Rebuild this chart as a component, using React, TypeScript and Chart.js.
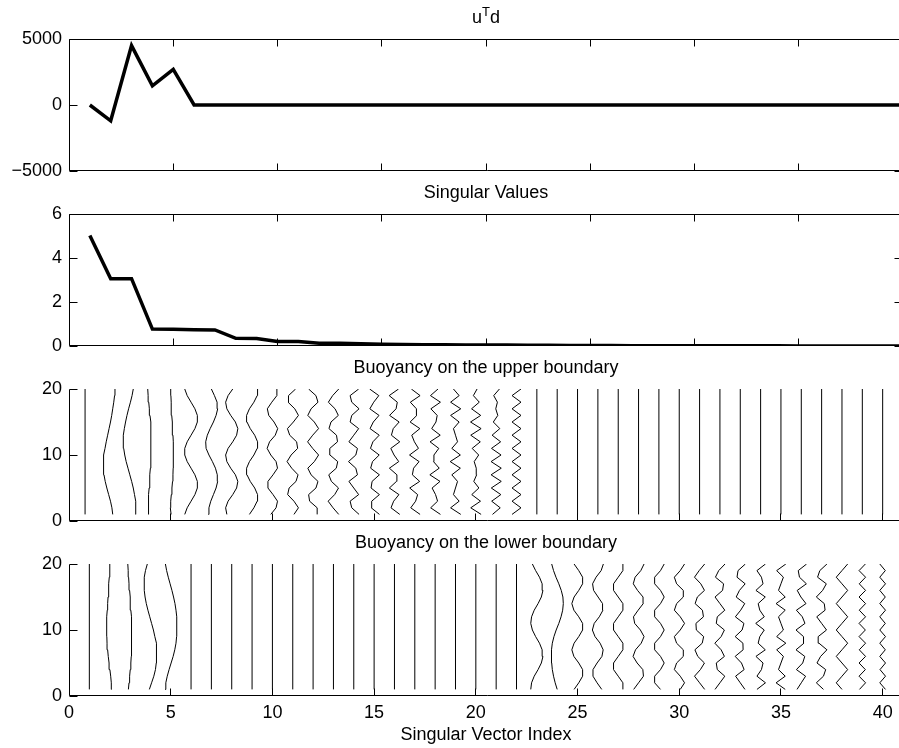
import { useEffect, useRef } from "react";
import { Chart, registerables } from "chart.js";

Chart.register(...registerables);

const FONT_FAMILY = "'Liberation Sans', Arial, Helvetica, sans-serif";

// ---------- data ----------
const vectorIndex = [1, 2, 3, 4, 5, 6, 7, 8, 9, 10, 11, 12, 13, 14, 15, 16, 17, 18, 19, 20,
  21, 22, 23, 24, 25, 26, 27, 28, 29, 30, 31, 32, 33, 34, 35, 36, 37, 38, 39, 40];
const gridLevels = [1, 2, 3, 4, 5, 6, 7, 8, 9, 10, 11, 12, 13, 14, 15, 16, 17, 18, 19, 20];
const xTickValues = [0, 5, 10, 15, 20, 25, 30, 35, 40];

const projectedData = [0, -1200, 4500, 1450, 2700, 0, 0, 0, 0, 0, 0, 0, 0, 0, 0, 0, 0, 0, 0, 0,
  0, 0, 0, 0, 0, 0, 0, 0, 0, 0, 0, 0, 0, 0, 0, 0, 0, 0, 0, 0];
const singularValues = [5.02, 3.06, 3.06, 0.77, 0.76, 0.74, 0.73, 0.35, 0.34, 0.21, 0.2, 0.13, 0.12, 0.1,
  0.08, 0.07, 0.06, 0.055, 0.05, 0.045, 0.04, 0.035, 0.03, 0.025, 0.02, 0.018, 0.015, 0.013, 0.011,
  0.01, 0.009, 0.008, 0.007, 0.006, 0.005, 0.004, 0.003, 0.003, 0.002, 0.002];

const utdTicks = [-5000, 0, 5000];
const svTicks = [0, 2, 4, 6];
const boundaryTicks = [0, 10, 20];

// singular-vector components (hundredths), bottom (level 1) to top (level 20)
const Z = [0, 0, 0, 0, 0, 0, 0, 0, 0, 0, 0, 0, 0, 0, 0, 0, 0, 0, 0, 0];
const upperBoundary = [
  [-21, -21, -21, -21, -21, -21, -21, -21, -21, -21, -21, -21, -21, -21, -21, -21, -21, -21, -21, -21],
  [15, 11, 4, -5, -14, -22, -28, -31, -31, -28, -23, -17, -10, -3, 4, 10, 15, 20, 24, 26],
  [29, 29, 27, 22, 16, 8, -1, -10, -19, -26, -31, -33, -33, -28, -22, -15, -7, 2, 10, 16],
  [-10, -10, -9, -8, -6, -4, -2, 0, 2, 3, 3, 3, 3, 2, 0, -2, -5, -8, -11, -13],
  [2, -2, 0, 3, 6, 9, 11, 12, 13, 13, 13, 12, 11, 9, 7, 5, 3, 2, 1, 0],
  [-31, -19, 0, 19, 31, 31, 19, 0, -19, -31, -31, -19, 0, 19, 31, 31, 19, 0, -19, -31],
  [-15, -12, -3, 10, 23, 31, 29, 20, 5, -12, -26, -28, -20, -6, 10, 23, 31, 28, 15, 0],
  [-24, -30, -18, 5, 24, 30, 18, -5, -24, -30, -18, 5, 24, 30, 18, -5, -24, -30, -18, 5],
  [-13, 9, 25, 27, 13, -9, -25, -27, -13, 9, 25, 27, 13, -9, -25, -27, -13, 9, 25, 27],
  [-8, 18, 25, 3, -22, -22, 3, 25, 18, -8, -26, -14, 14, 26, 8, -18, -25, -3, 22, 22],
  [6, 28, 6, -25, -18, 16, 26, -5, -28, -8, 24, 19, -15, -26, 3, 28, 10, -23, -21, 14],
  [20, 20, -17, -22, 14, 24, -10, -26, 6, 27, -2, -27, -2, 27, 6, -26, -10, 24, 14, -22],
  [26, -2, -26, 6, 25, -10, -23, 14, 21, -17, -18, 20, 15, -22, -12, 24, 8, -25, -4, 26],
  [26, -10, -18, 24, 0, -24, 18, 10, -26, 10, 18, -24, 0, 24, -18, -10, 26, -10, -18, 24],
  [26, -14, -12, 26, -15, -10, 26, -17, -8, 25, -18, -6, 25, -20, -4, 24, -21, -2, 23, -22],
  [26, -17, -4, 22, -25, 10, 12, -25, 21, -2, -18, 26, -15, -6, 23, -24, 8, 14, -26, 20],
  [26, -20, 4, 14, -25, 24, -12, -6, 21, -26, 18, -2, -15, 25, -23, 10, 8, -22, 26, -17],
  [26, -22, 12, 2, -15, 24, -26, 20, -8, -6, 18, -25, 25, -17, 4, 10, -21, 26, -23, 14],
  [26, -24, 18, -10, 0, 10, -18, 24, -26, 24, -18, 10, 0, -10, 18, -24, 26, -24, 18, -10],
  [26, -25, 23, -20, 15, -10, 4, 2, -8, 14, -18, 22, -25, 26, -26, 24, -21, 17, -12, 6],
  [-18, 20, -22, 23, -24, 25, -25, 25, -25, 24, -23, 22, -20, 18, -14, 8, -2, 6, -12, 16],
  [-22, 22, -22, 22, -22, 22, -22, 22, -22, 22, -22, 22, -22, 22, -22, 22, -22, 22, -22, 22],
  Z, Z, Z, Z, Z, Z, Z, Z, Z, Z, Z, Z, Z, Z, Z, Z, Z, Z,
];
const lowerBoundary = [
  Z,
  [10, 8, 5, 1, -3, -7, -10, -13, -14, -15, -15, -14, -12, -10, -8, -6, -4, -2, 0, 1],
  [-8, -5, -2, 1, 4, 6, 7, 8, 8, 8, 7, 6, 4, 2, 0, -2, -5, -7, -9, -11],
  [-5, 6, 17, 25, 29, 31, 31, 28, 22, 15, 6, -3, -12, -20, -26, -30, -31, -29, -24, -15],
  [-28, -24, -17, -8, 2, 12, 20, 26, 29, 30, 30, 29, 26, 21, 14, 6, -3, -12, -20, -26],
  Z, Z, Z, Z, Z, Z, Z, Z, Z, Z, Z, Z, Z, Z, Z, Z, Z,
  [-30, -26, -13, 6, 22, 30, 26, 13, -6, -22, -30, -26, -13, 6, 22, 30, 26, 13, -6, -22],
  [0, -10, -18, -24, -27, -28, -28, -24, -16, -5, 8, 19, 27, 30, 28, 20, 8, -6, -18, -27],
  [-17, 6, 25, 25, 6, -18, -28, -17, 6, 25, 25, 6, -18, -28, -17, 6, 25, 25, 6, -17],
  [19, -4, -24, -24, -4, 20, 26, 11, -14, -27, -18, 7, 25, 23, 1, -21, -26, -9, 16, 27],
  [23, 23, 0, -23, -23, 0, 23, 23, 0, -23, -23, 0, 23, 23, 0, -23, -23, 0, 23, 23],
  [-24, 0, 24, 21, -7, -27, -15, 13, 27, 9, -19, -25, -2, 23, 22, -5, -26, -17, 11, 27],
  [8, -21, -21, 8, 26, 8, -21, -21, 8, 26, 8, -21, -21, 8, 26, 8, -21, -21, 8, 26],
  [5, 26, 5, -24, -13, 20, 20, -13, -24, 5, 26, 5, -24, -13, 20, 20, -13, -24, 5, 26],
  [25, 0, -25, 4, 24, -9, -23, 13, 20, -16, -18, 19, 14, -22, -11, 24, 6, -25, -2, 25],
  [-24, 0, 24, -13, -18, 22, 6, -25, 6, 22, -18, -13, 24, 0, -24, 13, 18, -22, -6, 25],
  [23, 0, -23, 19, 6, -25, 14, 13, -25, 9, 18, -24, 2, 22, -20, -4, 24, -16, -11, 25],
  [-18, 24, -18, 4, 12, -23, 23, -12, -4, 18, -24, 18, -4, -12, 23, -23, 12, 4, -18, 24],
  [21, -24, 21, -12, 0, 12, -21, 24, -21, 12, 0, -12, 21, -24, 21, -12, 0, 12, -21, 24],
  [-21, 0, 21, -24, 7, 17, -26, 13, 11, -26, 18, 5, -24, 23, -2, -20, 25, -9, -15, 26],
  [9, -26, 9, 20, -23, -5, 26, -13, -17, 24, 0, -24, 17, 13, -26, 5, 23, -20, -9, 26],
  [0, -28, 0, 28, 0, -28, 0, 28, 0, -28, 0, 28, 0, -28, 0, 28, 0, -28, 0, 28],
  [-14, 16, -16, 15, -16, 16, -15, 16, -16, 15, -16, 16, -15, 16, -16, 16, -15, 16, -16, 15],
  [14, -14, 14, -13, 14, -14, 13, -14, 14, -14, 13, -14, 14, -14, 13, -14, 14, -14, 13, -14],
];

// ---------- layout ----------
const CANVAS_W = 910;
const AXIS_LEFT = 69;
const PAD_RIGHT = 7; // chart area right edge at 903 (beyond the visible 899)
const PAD_TOP = 39;
const PLOT_H = 132;

const framePlugin = {
  id: "panelFrame",
  afterDraw(chart: any, _args: any, opts: any) {
    const { ctx, chartArea: a, scales } = chart;
    const xs = scales.x;
    const ys = scales.y;
    ctx.save();
    ctx.strokeStyle = "#000";
    ctx.lineWidth = 1;
    const L = Math.floor(a.left) + 0.5;
    const T = Math.floor(a.top) + 0.5;
    const B = Math.ceil(a.bottom) - 0.5;
    const R = Math.round(a.right) - 0.5;
    ctx.beginPath();
    ctx.moveTo(L, T);
    ctx.lineTo(L, B);
    ctx.lineTo(a.right + 2, B);
    if (opts.box) {
      ctx.moveTo(L, T);
      ctx.lineTo(R, T);
      ctx.lineTo(R, B);
    }
    const xTL = 7;
    const yTL = 8;
    for (const t of xs.ticks) {
      const px = Math.floor(xs.getPixelForValue(t.value)) + 0.5;
      ctx.moveTo(px, B);
      ctx.lineTo(px, B - xTL);
      if (opts.box) {
        ctx.moveTo(px, T);
        ctx.lineTo(px, T + xTL);
      }
    }
    for (const t of ys.ticks) {
      const py = Math.floor(ys.getPixelForValue(t.value)) + 0.5;
      ctx.moveTo(L, py);
      ctx.lineTo(L + yTL, py);
      if (opts.box) {
        ctx.moveTo(R, py);
        ctx.lineTo(R - yTL, py);
      }
    }
    ctx.stroke();

    // panel title
    const cx = (a.left + a.right) / 2;
    const base = a.top - 16;
    ctx.fillStyle = "#000";
    ctx.textBaseline = "alphabetic";
    const big = "18px " + FONT_FAMILY;
    const small = "13px " + FONT_FAMILY;
    if (opts.parts) {
      const [p1, sup, p2] = opts.parts;
      ctx.font = big;
      const w1 = ctx.measureText(p1).width;
      const w3 = ctx.measureText(p2).width;
      ctx.font = small;
      const w2 = ctx.measureText(sup).width;
      let x = cx - (w1 + w2 + w3) / 2;
      ctx.textAlign = "left";
      ctx.font = big;
      ctx.fillText(p1, x, base);
      x += w1;
      ctx.font = small;
      ctx.fillText(sup, x, base - 7);
      x += w2;
      ctx.font = big;
      ctx.fillText(p2, x, base);
    } else if (opts.title) {
      ctx.font = big;
      ctx.textAlign = "center";
      ctx.fillText(opts.title, cx, base);
    }
    ctx.restore();
  },
};

const thick = (values: number[]) => [
  {
    data: vectorIndex.map((x, i) => ({ x, y: values[i] })),
    borderColor: "#000",
    borderWidth: 3.5,
    pointRadius: 0,
    fill: false,
    tension: 0,
  },
];

const wiggles = (vectors: number[][]) =>
  vectors.map((vec, k) => ({
    data: gridLevels.map((y, j) => ({ x: vectorIndex[k] + vec[j] / 100, y })),
    borderColor: "#000",
    borderWidth: 1,
    pointRadius: 0,
    fill: false,
    tension: 0,
  }));

const fmt = (v: number) => (v < 0 ? "\u2212" + Math.abs(v) : String(v));

type PanelSpec = {
  top: number;
  axisH: number;
  title?: string;
  parts?: string[];
  yMin: number;
  yMax: number;
  yTicks: number[];
  xMax: number;
  box: boolean;
  showX: boolean;
  datasets: any[];
};

const panels: PanelSpec[] = [
  { top: 0, axisH: 30, parts: ["u", "T", "d"], yMin: -5000, yMax: 5000, yTicks: utdTicks, xMax: 40, box: true, showX: false, datasets: thick(projectedData) },
  { top: 175, axisH: 30, title: "Singular Values", yMin: 0, yMax: 6, yTicks: svTicks, xMax: 40, box: true, showX: false, datasets: thick(singularValues) },
  { top: 350, axisH: 30, title: "Buoyancy on the upper boundary", yMin: 0, yMax: 20, yTicks: boundaryTicks, xMax: 41, box: false, showX: false, datasets: wiggles(upperBoundary) },
  { top: 525, axisH: 52, title: "Buoyancy on the lower boundary", yMin: 0, yMax: 20, yTicks: boundaryTicks, xMax: 41, box: false, showX: true, datasets: wiggles(lowerBoundary) },
];

function Panel({ spec }: { spec: PanelSpec }) {
  const ref = useRef<HTMLCanvasElement>(null);
  const height = PAD_TOP + PLOT_H + spec.axisH;
  useEffect(() => {
    const font = { family: FONT_FAMILY, size: 18 };
    const chart = new Chart(ref.current as HTMLCanvasElement, {
      type: "line",
      data: { datasets: spec.datasets },
      options: {
        animation: false,
        responsive: false,
        maintainAspectRatio: false,
        layout: { padding: { top: PAD_TOP, right: PAD_RIGHT, left: 0, bottom: 0 } },
        plugins: {
          legend: { display: false },
          tooltip: { enabled: false },
          title: { display: false },
          panelFrame: { box: spec.box, title: spec.title, parts: spec.parts },
        } as any,
        scales: {
          x: {
            type: "linear",
            min: 0,
            max: spec.xMax,
            grid: { display: false, drawTicks: false },
            border: { display: false },
            ticks: { display: spec.showX, font, color: "#000", padding: 6, maxRotation: 0, autoSkip: false },
            title: { display: spec.showX, text: "Singular Vector Index", font, color: "#000", padding: { top: 0, bottom: 2 } },
            afterBuildTicks: (s: any) => {
              s.ticks = xTickValues.map((value) => ({ value }));
            },
            afterFit: (s: any) => {
              s.height = spec.axisH;
            },
          },
          y: {
            type: "linear",
            min: spec.yMin,
            max: spec.yMax,
            grid: { display: false, drawTicks: false },
            border: { display: false },
            ticks: { font, color: "#000", padding: 7, callback: (v: any) => fmt(Number(v)) },
            afterBuildTicks: (s: any) => {
              s.ticks = spec.yTicks.map((value) => ({ value }));
            },
            afterFit: (s: any) => {
              s.width = AXIS_LEFT;
            },
          },
        } as any,
      },
      plugins: [framePlugin],
    });
    return () => chart.destroy();
  }, [spec]);
  return (
    <canvas
      ref={ref}
      width={CANVAS_W}
      height={height}
      style={{ position: "absolute", left: 0, top: spec.top, width: CANVAS_W, height }}
    />
  );
}

export default function App() {
  return (
    <div
      style={{
        position: "absolute",
        left: 0,
        top: 0,
        width: 899,
        height: 748,
        overflow: "hidden",
        background: "#fff",
      }}
    >
      {panels.map((p, i) => (
        <Panel key={i} spec={p} />
      ))}
    </div>
  );
}
